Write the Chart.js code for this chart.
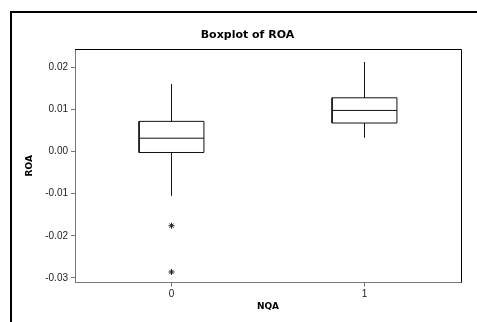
<!DOCTYPE html>
<html>
<head>
<meta charset="utf-8">
<script src="https://cdn.jsdelivr.net/npm/chart.js@4/dist/chart.umd.min.js"></script>
<style>
  html, body { margin: 0; padding: 0; background: #fff; }
  #wrap { position: relative; width: 477px; height: 322px; overflow: hidden; }
  #frame { position: absolute; left: 10px; top: 11px; width: 480px; height: 320px;
           border-top: 2px solid #000; border-left: 2px solid #000; }
  #c { position: absolute; left: 0; top: 0; }
</style>
</head>
<body>
<div id="wrap">
  <div id="frame"></div>
  <canvas id="c" width="477" height="322"></canvas>
</div>
<script>
// data
const groups = ['0', '1'];
const q1 = [-0.0002, 0.0068];
const median = [0.0032, 0.0098];
const q3 = [0.0072, 0.0128];
const whiskerLow = [-0.0104, 0.0034];
const whiskerHigh = [0.0160, 0.0213];
const outliers = [[-0.0176, -0.0286], []];
const yTicks = [-0.03, -0.02, -0.01, 0.00, 0.01, 0.02];

const hw = 0.168; // half box width in category units

const datasets = [];
groups.forEach((g, i) => {
  // box + median
  datasets.push({
    data: [
      {x: i - hw, y: q1[i]}, {x: i + hw, y: q1[i]}, {x: i + hw, y: q3[i]},
      {x: i - hw, y: q3[i]}, {x: i - hw, y: q1[i]}, {x: i - hw, y: null},
      {x: i - hw, y: median[i]}, {x: i + hw, y: median[i]}
    ],
    showLine: true, spanGaps: false, borderColor: '#111', borderWidth: 1,
    pointRadius: 0, fill: false
  });
  // whiskers
  datasets.push({
    data: [
      {x: i, y: whiskerHigh[i]}, {x: i, y: q3[i]}, {x: i, y: null},
      {x: i, y: q1[i]}, {x: i, y: whiskerLow[i]}
    ],
    showLine: true, spanGaps: false, borderColor: '#111', borderWidth: 1,
    pointRadius: 0
  });
  // outliers
  datasets.push({
    data: outliers[i].map(v => ({x: i, y: v})),
    showLine: false, pointStyle: 'star', pointRadius: 3,
    borderColor: '#222', borderWidth: 1, backgroundColor: '#222'
  });
});

const frame = {
  id: 'frame',
  afterDraw(chart) {
    const {ctx, chartArea: a} = chart;
    ctx.save();
    ctx.strokeStyle = '#000';
    ctx.lineWidth = 1;
    ctx.beginPath();
    ctx.moveTo(a.left, a.top + 0.5);
    ctx.lineTo(a.right + 0.5, a.top + 0.5);
    ctx.lineTo(a.right + 0.5, a.bottom);
    ctx.stroke();
    ctx.fillStyle = '#000';
    ctx.font = 'bold 11px "DejaVu Sans"';
    ctx.textAlign = 'center';
    ctx.textBaseline = 'middle';
    ctx.fillText('Boxplot of ROA', 247.5, 35);
    ctx.restore();
  }
};

new Chart(document.getElementById('c'), {
  type: 'scatter',
  data: { datasets },
  plugins: [frame],
  options: {
    responsive: false,
    devicePixelRatio: 1,
    animation: false,
    layout: { padding: { top: 49, right: 16, left: 0, bottom: 0 } },
    plugins: { legend: { display: false }, tooltip: { enabled: false }, title: { display: false } },
    scales: {
      x: {
        type: 'linear', min: -0.5, max: 1.5,
        afterBuildTicks: s => { s.ticks = groups.map((g, i) => ({value: i})); },
        afterFit: s => { s.height = 39.5; },
        ticks: {
          callback: v => groups[v],
          font: { family: 'Liberation Sans', size: 10 }, color: '#222', padding: 2
        },
        grid: { drawOnChartArea: false, tickLength: 4, color: '#777' },
        border: { color: '#777', width: 1 },
        title: {
          display: true, text: 'NQA', color: '#000',
          font: { family: 'DejaVu Sans', size: 9, weight: 'bold' },
          padding: { top: 0, bottom: 9.6 }
        }
      },
      y: {
        min: -0.0311, max: 0.0244,
        afterBuildTicks: s => { s.ticks = yTicks.map(v => ({value: v})); },
        afterFit: s => { s.width = 75; },
        ticks: {
          callback: v => v.toFixed(2),
          font: { family: 'Liberation Sans', size: 10 }, color: '#222', padding: 3
        },
        grid: { drawOnChartArea: false, tickLength: 4, color: '#777' },
        border: { color: '#777', width: 1 },
        title: {
          display: true, text: 'ROA', color: '#000',
          font: { family: 'DejaVu Sans', size: 9, weight: 'bold' },
          padding: { top: 24.6, bottom: 0 }
        }
      }
    }
  }
});
</script>
</body>
</html>
